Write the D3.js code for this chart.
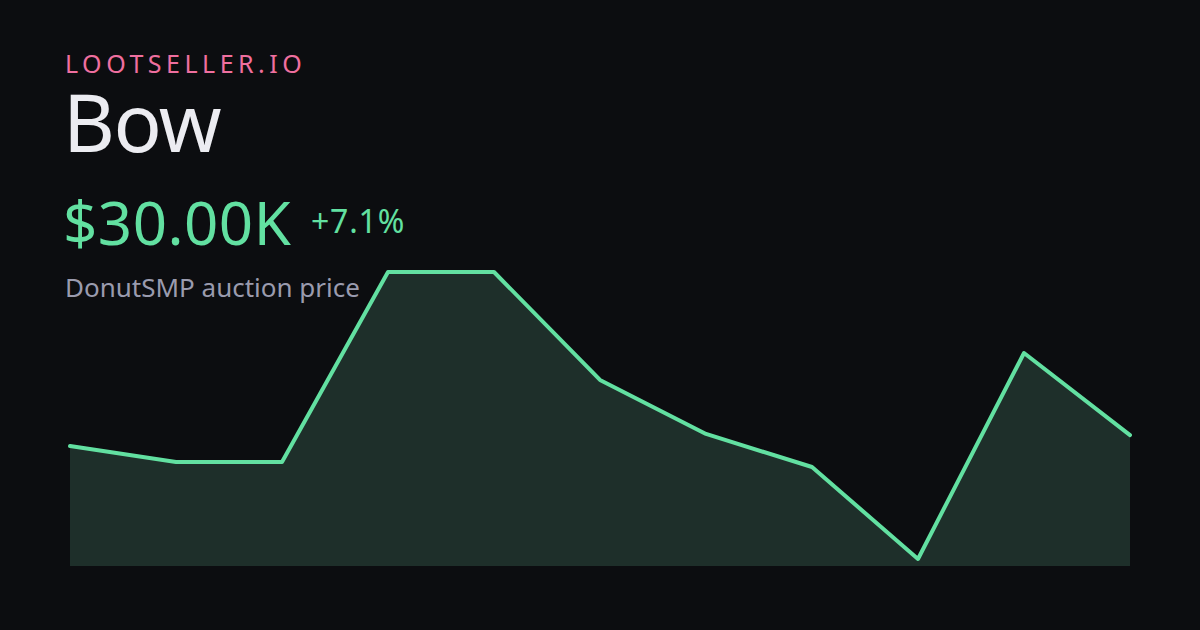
<!DOCTYPE html>
<html><head><meta charset="utf-8">
<script src="https://cdn.jsdelivr.net/npm/d3@7"></script>
<style>
html,body{margin:0;padding:0;background:#0c0d10;}
svg{display:block;}
</style></head>
<body>
<svg id="c" width="1200" height="630"></svg>
<script>
const brand = "LOOTSELLER.IO";
const itemName = "Bow";
const subtitle = "DonutSMP auction price";
const days = [1,2,3,4,5,6,7,8,9,10,11];
const prices = [28.0, 25.1, 25.1, 59.6, 59.6, 40.0, 30.2, 24.2, 7.5, 44.9, 30.0]; // $K

const svg = d3.select("#c");
svg.append("rect").attr("width",1200).attr("height",630).attr("fill","#0c0d10");

const x = d3.scaleLinear().domain(d3.extent(days)).range([70,1130]);
const y = d3.scaleLinear().domain(d3.extent(prices)).range([559,272]);
const bottom = 566;

const pts = days.map((d,i)=>[d,prices[i]]);
svg.append("path").datum(pts)
  .attr("d", d3.area().x(d=>x(d[0])).y0(bottom).y1(d=>y(d[1])))
  .attr("fill","#1e2f2a");
svg.append("path").datum(pts)
  .attr("d", d3.line().x(d=>x(d[0])).y(d=>y(d[1])))
  .attr("fill","none").attr("stroke","#62e0a1").attr("stroke-width",4)
  .attr("stroke-linejoin","round").attr("stroke-linecap","round");

const font = "'Noto Sans', 'Open Sans', sans-serif";
const last = prices[prices.length-1], first = prices[0];
const change = (last-first)/first*100;

svg.append("text").attr("x",65).attr("y",73).text(brand)
  .attr("font-family",font).attr("font-size",25).attr("letter-spacing",4.5)
  .attr("fill","#ef6f9f");
svg.append("text").attr("x",63).attr("y",152).text(itemName)
  .attr("font-family",font).attr("font-size",80).attr("letter-spacing",-1.5).attr("fill","#ececf1");
svg.append("text").attr("x",63).attr("y",245).text("$"+last.toFixed(2)+"K")
  .attr("font-family",font).attr("font-size",60).attr("letter-spacing",0.5).attr("fill","#62e0a1");
svg.append("text").attr("x",311).attr("y",233).text((change>=0?"+":"")+change.toFixed(1)+"%")
  .attr("font-family",font).attr("font-size",32).attr("letter-spacing",0.8).attr("fill","#62e0a1");
svg.append("text").attr("x",65).attr("y",297).text(subtitle)
  .attr("font-family",font).attr("font-size",26).attr("fill","#9a9bae");
</script>
</body></html>
